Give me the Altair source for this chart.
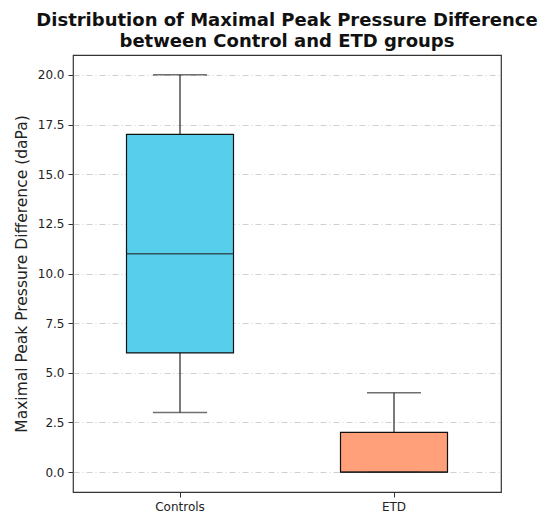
import altair as alt
import pandas as pd

groups = ["Controls", "ETD"]
mins = [3.0, 0.0]
q1s = [6.0, 0.0]
medians = [11.0, 0.0]
q3s = [17.0, 2.0]
maxs = [20.0, 4.0]
colors = ["#57CEEB", "#FFA07A"]
y_ticks = [0.0, 2.5, 5.0, 7.5, 10.0, 12.5, 15.0, 17.5, 20.0]

df = pd.DataFrame({"group": groups, "lo": mins, "q1": q1s, "med": medians,
                   "q3": q3s, "hi": maxs})

FONT = "DejaVu Sans"
xenc = alt.X("group:N", sort=groups, title=None,
             scale=alt.Scale(paddingInner=0, paddingOuter=0),
             axis=alt.Axis(labelAngle=0, grid=False, labelFontSize=12,
                           labelColor="#222", tickColor="#333", domain=False,
                           tickSize=5, labelPadding=4))
yscale = alt.Scale(domain=[-1, 21], nice=False, zero=False)
yaxis = alt.Axis(values=y_ticks, format=".1f", grid=True, gridColor="#d0d0d0",
                 gridDash=[6, 3, 1, 3], gridWidth=1, labelFontSize=12,
                 labelColor="#222", tickColor="#333", domain=False, tickSize=5,
                 labelPadding=4,
                 title="Maximal Peak Pressure Difference (daPa)",
                 titleFontSize=15.5, titleFontWeight="normal", titleColor="#222",
                 titlePadding=8)

base = alt.Chart(df)

whisk_lo = base.mark_rule(color="#333", strokeWidth=1.3).encode(
    x=xenc, y=alt.Y("lo:Q", scale=yscale, axis=yaxis), y2="q1:Q")
whisk_hi = base.mark_rule(color="#333", strokeWidth=1.3).encode(
    x=xenc, y=alt.Y("q3:Q", scale=yscale), y2="hi:Q")
box = base.mark_bar(size=107, stroke="#111", strokeWidth=1.2).encode(
    x=xenc, y=alt.Y("q1:Q", scale=yscale), y2="q3:Q",
    color=alt.Color("group:N", scale=alt.Scale(domain=groups, range=colors),
                    legend=None))
cap_lo = base.mark_tick(size=54, thickness=1.5, color="#333", orient="horizontal").encode(
    x=xenc, y=alt.Y("lo:Q", scale=yscale))
cap_hi = base.mark_tick(size=54, thickness=1.5, color="#333", orient="horizontal").encode(
    x=xenc, y=alt.Y("hi:Q", scale=yscale))
med = base.mark_tick(size=107, thickness=1.5, color="#222", orient="horizontal").encode(
    x=xenc, y=alt.Y("med:Q", scale=yscale))

chart = alt.layer(whisk_lo, whisk_hi, box, cap_lo, cap_hi, med).properties(
    width=428, height=437,
    autosize=alt.AutoSizeParams(type="none"),
    padding={"left": 65, "top": 47, "right": 41, "bottom": 21},
    title=alt.TitleParams(
        ["Distribution of Maximal Peak Pressure Difference",
         "between Control and ETD groups"],
        fontSize=18, font=FONT, fontWeight="bold", color="#111",
        anchor="middle", offset=4, lineHeight=21),
).configure(font=FONT).configure_view(stroke="#333", strokeWidth=1.2)

chart.save("out.html", embed_options={"renderer": "svg", "actions": False})
